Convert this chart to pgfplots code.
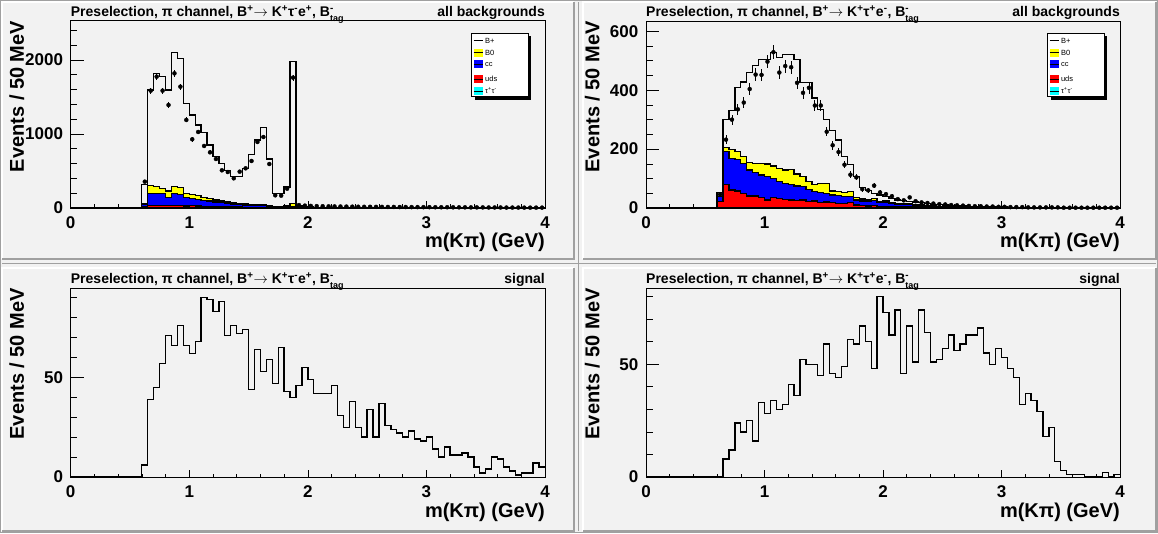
\documentclass[border=0pt]{standalone}
\usepackage{fontspec}
\setmainfont{Liberation Sans}
\usepackage{pgfplots}
\usepackage{pgfplotstable}
\pgfplotsset{compat=1.18}

\definecolor{padgray}{RGB}{242,242,242}
\definecolor{padedge}{RGB}{160,160,160}
\definecolor{ryellow}{RGB}{255,255,0}
\definecolor{rblue}{RGB}{0,0,255}
\definecolor{rred}{RGB}{255,0,0}
\definecolor{rcyan}{RGB}{0,255,255}

\newcommand{\up}[1]{\textsuperscript{#1}}
\newcommand{\btag}{B\rlap{\up{-}}\raisebox{-4.5pt}{\fontsize{9}{9}\selectfont tag}}

\pgfplotstableread{
x tot yt bt rt
0.00 0 0 0 0
0.60 320 60 50 15
0.65 1594 302 198 36
0.70 1815 288 194 32
0.75 1774 266 194 36
0.80 1594 230 144 32
0.85 2098 288 198 36
0.90 2022 279 185 32
0.95 1414 194 140 27
1.00 1256 180 126 32
1.05 1121 167 113 27
1.10 1022 140 104 23
1.15 851 126 95 23
1.20 693 108 81 18
1.25 600 95 72 18
1.30 510 81 63 14
1.35 430 72 54 14
1.40 430 63 50 14
1.45 536 54 40 9
1.50 725 50 36 9
1.55 918 45 32 9
1.60 1090 50 36 9
1.65 662 36 27 7
1.70 200 23 18 5
1.75 200 18 14 5
1.80 285 32 20 5
1.85 1980 60 15 5
1.90 25 12 8 3
1.95 15 10 7 3
2.00 12 9 6 2
2.05 10 8 5 2
2.10 9 7 5 2
2.15 8 6 4 2
2.20 7 6 4 1
2.25 7 5 3 1
2.30 6 5 3 1
2.35 6 4 3 1
2.40 5 4 2 1
2.45 5 3 2 1
2.50 4 3 2 1
2.55 4 3 2 1
2.60 4 2 1 0
2.65 3 2 1 0
2.70 3 2 1 0
2.75 3 2 1 0
2.80 3 2 1 0
2.85 2 1 1 0
2.90 2 1 1 0
2.95 2 1 1 0
3.00 2 1 0 0
3.05 2 1 0 0
3.10 2 1 0 0
3.15 2 1 0 0
3.20 1 1 0 0
3.25 1 1 0 0
3.30 1 0 0 0
3.35 1 0 0 0
3.40 1 0 0 0
3.45 1 0 0 0
3.50 1 0 0 0
3.55 1 0 0 0
3.60 1 0 0 0
3.65 1 0 0 0
3.70 1 0 0 0
3.75 1 0 0 0
3.80 1 0 0 0
3.85 1 0 0 0
3.90 1 0 0 0
3.95 1 0 0 0
4.00 1 0 0 0
}\tltab

\pgfplotstableread{
xc d e
0.625 356 19
0.675 1585 40
0.725 1774 42
0.775 1585 40
0.825 1391 37
0.875 1819 43
0.925 1639 40
0.975 1189 34
1.025 928 30
1.075 1027 32
1.125 838 29
1.175 752 27
1.225 662 26
1.275 509 23
1.325 486 22
1.375 401 20
1.425 491 22
1.475 536 23
1.525 635 25
1.575 892 30
1.625 959 31
1.675 594 24
1.725 171 13
1.775 167 13
1.825 261 16
1.875 1761 42
1.925 40 6
1.975 32 6
2.025 28 5
2.075 25 5
2.125 24 5
2.175 22 5
2.225 21 5
2.275 20 4
2.325 19 4
2.375 18 4
2.425 17 4
2.475 16 4
2.525 16 4
2.575 15 4
2.625 15 4
2.675 14 4
2.725 14 4
2.775 13 4
2.825 13 4
2.875 12 3
2.925 12 3
2.975 11 3
3.025 11 3
3.075 10 3
3.125 10 3
3.175 10 3
3.225 9 3
3.275 9 3
3.325 9 3
3.375 8 3
3.425 8 3
3.475 8 3
3.525 7 3
3.575 7 3
3.625 7 3
3.675 6 2
3.725 6 2
3.775 6 2
3.825 5 2
3.875 5 2
3.925 5 2
3.975 5 2
}\tldat

\pgfplotstableread{
x tot yt bt rt
0.00 0 0 0 0
0.60 53 40 38 21
0.65 301 206 191 80
0.70 330 199 169 61
0.75 410 191 165 58
0.80 428 174 152 50
0.85 460 154 129 41
0.90 485 152 120 41
0.95 505 152 112 36
1.00 505 149 106 27
1.05 528 143 101 35
1.10 510 135 89 33
1.15 522 129 84 29
1.20 522 131 80 27
1.25 505 115 75 25
1.30 425 106 72 27
1.35 425 89 63 22
1.40 373 80 55 24
1.45 335 84 52 19
1.50 300 84 50 20
1.55 262 58 44 18
1.60 231 55 42 16
1.65 176 52 38 16
1.70 148 55 38 18
1.75 107 35 27 10
1.80 70 31 24 9
1.85 60 27 23 7
1.90 50 32 25 8
1.95 44 22 18 6
2.00 38 24 20 6
2.05 33 19 16 5
2.10 27 16 14 5
2.15 25 15 12 4
2.20 22 14 11 4
2.25 20 11 9 3
2.30 18 10 8 3
2.35 15 8 6 2
2.40 13 7 5 2
2.45 12 6 5 2
2.50 10 5 4 2
2.55 9 4 3 1
2.60 8 3 2 1
2.65 7 3 2 1
2.70 6 2 2 1
2.75 5 2 1 1
2.80 5 2 1 0
2.85 4 1 1 0
2.90 4 1 1 0
2.95 3 1 0 0
3.00 3 1 0 0
3.05 2 1 0 0
3.10 2 1 0 0
3.15 2 0 0 0
3.20 2 0 0 0
3.25 2 0 0 0
3.30 2 0 0 0
3.35 1 0 0 0
3.40 1 0 0 0
3.45 1 0 0 0
3.50 1 0 0 0
3.55 1 0 0 0
3.60 1 0 0 0
3.65 1 0 0 0
3.70 1 0 0 0
3.75 1 0 0 0
3.80 1 0 0 0
3.85 1 0 0 0
3.90 1 0 0 0
3.95 1 0 0 0
4.00 1 0 0 0
}\trtab

\pgfplotstableread{
xc d e
0.625 46 7
0.675 232 15
0.725 300 17
0.775 335 18
0.825 358 19
0.875 404 20
0.925 453 21
0.975 452 21
1.025 497 22
1.075 529 23
1.125 460 21
1.175 482 22
1.225 478 22
1.275 425 21
1.325 391 20
1.375 408 20
1.425 348 19
1.475 348 19
1.525 259 16
1.575 213 15
1.625 190 14
1.675 147 12
1.725 113 11
1.775 104 10
1.825 64 8
1.875 60 8
1.925 76 9
1.975 53 7
2.025 47 7
2.075 40 6
2.125 30 5
2.175 26 5
2.225 36 6
2.275 23 5
2.325 19 4
2.375 17 4
2.425 15 4
2.475 13 4
2.525 12 3
2.575 10 3
2.625 9 3
2.675 8 3
2.725 7 3
2.775 6 2
2.825 6 2
2.875 5 2
2.925 5 2
2.975 4 2
3.025 4 2
3.075 3 2
3.125 3 2
3.175 3 2
3.225 2 1
3.275 2 1
3.325 2 1
3.375 2 1
3.425 2 1
3.475 2 1
3.525 1 1
3.575 1 1
3.625 1 1
3.675 1 1
3.725 1 1
3.775 1 1
3.825 1 1
3.875 1 1
3.925 1 1
3.975 1 1
}\trdat

\pgfplotstableread{
x s
0.00 0
0.60 6
0.65 39
0.70 45
0.75 57
0.80 71
0.85 66
0.90 76
0.95 66
1.00 62
1.05 68
1.10 90
1.15 89
1.20 83
1.25 88
1.30 71
1.35 76
1.40 72
1.45 74
1.50 44
1.55 64
1.60 53
1.65 59
1.70 47
1.75 65
1.80 43
1.85 40
1.90 46
1.95 55
2.00 49
2.05 42
2.10 42
2.15 42
2.20 46
2.25 31
2.30 25
2.35 38
2.40 25
2.45 20
2.50 34
2.55 20
2.60 37
2.65 26
2.70 24
2.75 22
2.80 20
2.85 23
2.90 19
2.95 18
3.00 20
3.05 14
3.10 10
3.15 15
3.20 11
3.25 11
3.30 12
3.35 10
3.40 5
3.45 2
3.50 4
3.55 10
3.60 9
3.65 5
3.70 3
3.75 1
3.80 2
3.85 2
3.90 7
3.95 5
4.00 5
}\bltab

\pgfplotstableread{
x s
0.00 0
0.65 8
0.70 12
0.75 24
0.80 20
0.85 25
0.90 16
0.95 33
1.00 28
1.05 34
1.10 30
1.15 32
1.20 41
1.25 36
1.30 52
1.35 50
1.40 50
1.45 45
1.50 59
1.55 46
1.60 44
1.65 49
1.70 61
1.75 59
1.80 67
1.85 60
1.90 48
1.95 80
2.00 73
2.05 63
2.10 74
2.15 46
2.20 67
2.25 51
2.30 74
2.35 64
2.40 51
2.45 52
2.50 57
2.55 63
2.60 56
2.65 59
2.70 63
2.75 63
2.80 66
2.85 55
2.90 50
2.95 57
3.00 53
3.05 48
3.10 44
3.15 32
3.20 37
3.25 34
3.30 29
3.35 18
3.40 22
3.45 7
3.50 3
3.55 1
3.60 1
3.65 1
3.70 0
3.75 0
3.80 0
3.85 2
3.90 0
3.95 1
4.00 1
}\brtab

\pgfplotsset{
  rootaxis/.style={
    scale only axis, width=474.3pt,
    xmin=0, xmax=4, ymin=0,
    clip mode=individual,
    tick pos=left, tick align=inside,
    xtick={0,1,2,3,4}, xticklabels={0,1,2,3,4},
    minor xtick={0.2,0.4,...,3.9},
    xtick style={/pgfplots/major tick length=7pt,/pgfplots/minor tick length=3.5pt,black,line width=0.6pt},
    ytick style={/pgfplots/major tick length=13pt,/pgfplots/minor tick length=6.5pt,black,line width=0.6pt},
    axis line style={black,line width=0.8pt},
    tick label style={font=\bfseries\fontsize{17}{17}\selectfont, inner sep=0pt},
    xticklabel style={anchor=north, yshift=-8.7pt},
    yticklabel style={anchor=east, xshift=-7.5pt},
    xlabel={m(Kπ) (GeV)}, ylabel={Events / 50 MeV},
    label style={font=\bfseries\fontsize{20}{20}\selectfont, inner sep=0pt},
    x label style={at={(axis description cs:1,0)}, anchor=base east, yshift=-40pt},
    y label style={at={(axis description cs:-0.0985,1)}, anchor=base east},
  },
  hist/.style={const plot, draw=black, line width=1.3pt},
  datapts/.style={only marks, mark=*, mark size=2pt, black,
     error bars/.cd, y dir=both, y explicit, error mark=none,
     error bar style={line width=0.8pt, black}},
}
\tikzset{
  ttl/.style={anchor=base west, inner sep=0pt, font=\bfseries\fontsize{14}{14}\selectfont},
  ttr/.style={anchor=base east, inner sep=0pt, font=\bfseries\fontsize{14}{14}\selectfont},
}

\newcommand{\padbox}[4]{%
  \draw[white, line width=1.2pt] (#1,#2) -- (#1,#4) -- (#3,#4);
  \draw[padedge, line width=1.2pt] (#1,#2) -- (#3,#2) -- (#3,#4);}

\newcommand{\rootlegend}[2]{%
  \begin{scope}[shift={(#1,#2)}]
    \fill[black] (3,-66.4) rectangle (59.3,-3);
    \draw[black, line width=0.6pt, fill=white] (0,-63.4) rectangle (56.3,0);
    \foreach \c/\yy/\lab in {white/7.4/{B+}, ryellow/19.4/{B0}, rblue/31/{cc}, rred/45.7/{uds}, rcyan/57.7/{τ\up{+}τ\up{-}}}{
      \fill[\c] (2,-\yy-4) rectangle (11.6,-\yy+4);
      \draw[black, line width=0.8pt] (2,-\yy) -- (11.6,-\yy);
      \node[anchor=west, inner sep=0pt, font=\fontsize{7.5}{7.5}\selectfont] at (13.3,-\yy) {\lab};
    }
  \end{scope}}

\begin{document}
\begin{tikzpicture}[x=1pt,y=1pt]
\fill[padgray] (0,0) rectangle (1158,533);
\draw[padedge, line width=1.2pt] (0.6,0.6) rectangle (1157.4,532.4);
\padbox{2}{274}{574}{531}
\padbox{583}{274}{1156}{531}
\padbox{2}{2}{574}{265}
\padbox{583}{2}{1156}{265}
\draw[padedge, line width=1pt] (578.5,2) -- (578.5,531);
\draw[padedge, line width=1pt] (2,269.5) -- (1156,269.5);

% top left
\begin{axis}[rootaxis, at={(70.7pt,325pt)}, anchor=south west, height=187.3pt,
  ymax=2530, ytick={0,1000,2000}, yticklabels={0,1000,2000},
  minor ytick={200,400,...,2400}]
  \addplot[hist] table[x=x,y=tot]{\tltab};
  \addplot[hist, fill=ryellow] table[x=x,y=yt]{\tltab} \closedcycle;
  \addplot[hist, fill=rblue] table[x=x,y=bt]{\tltab} \closedcycle;
  \addplot[hist, fill=rred] table[x=x,y=rt]{\tltab} \closedcycle;
  \addplot[datapts] table[x=xc,y=d,y error=e]{\tldat};
  \node[ttl] at ([yshift=4pt]axis description cs:0,1) {Preselection, π channel, B\up{+}$\rightarrow$ K\up{+}τ\up{-}e\up{+}, \btag};
  \node[ttr] at ([yshift=4pt]axis description cs:1,1) {all backgrounds};
\end{axis}
\rootlegend{471.7}{499.7}

% top right
\begin{axis}[rootaxis, at={(646pt,325pt)}, anchor=south west, width=474pt, height=187pt,
  ymax=635, ytick={0,200,400,600}, yticklabels={0,200,400,600},
  minor ytick={50,100,...,600}]
  \addplot[hist] table[x=x,y=tot]{\trtab};
  \addplot[hist, fill=ryellow] table[x=x,y=yt]{\trtab} \closedcycle;
  \addplot[hist, fill=rblue] table[x=x,y=bt]{\trtab} \closedcycle;
  \addplot[hist, fill=rred] table[x=x,y=rt]{\trtab} \closedcycle;
  \addplot[datapts] table[x=xc,y=d,y error=e]{\trdat};
  \node[ttl] at ([yshift=4pt]axis description cs:0,1) {Preselection, π channel, B\up{+}$\rightarrow$ K\up{+}τ\up{+}e\up{-}, \btag};
  \node[ttr] at ([yshift=4pt]axis description cs:1,1) {all backgrounds};
\end{axis}
\rootlegend{1047.5}{499.7}

% bottom left
\begin{axis}[rootaxis, at={(70.7pt,56pt)}, anchor=south west, height=189pt,
  ymax=94.8, ytick={0,50}, yticklabels={0,50},
  minor ytick={10,20,...,90}]
  \addplot[hist] table[x=x,y=s]{\bltab};
  \node[ttl] at ([yshift=4pt]axis description cs:0,1) {Preselection, π channel, B\up{+}$\rightarrow$ K\up{+}τ\up{-}e\up{+}, \btag};
  \node[ttr] at ([yshift=4pt]axis description cs:1,1) {signal};
\end{axis}

% bottom right
\begin{axis}[rootaxis, at={(646pt,56pt)}, anchor=south west, width=474pt, height=189pt,
  ymax=83.8, ytick={0,50}, yticklabels={0,50},
  minor ytick={10,20,...,80}]
  \addplot[hist] table[x=x,y=s]{\brtab};
  \node[ttl] at ([yshift=4pt]axis description cs:0,1) {Preselection, π channel, B\up{+}$\rightarrow$ K\up{+}τ\up{+}e\up{-}, \btag};
  \node[ttr] at ([yshift=4pt]axis description cs:1,1) {signal};
\end{axis}

\pgfresetboundingbox
\path[use as bounding box] (0,0) rectangle (1158,533);
\end{tikzpicture}
\end{document}
